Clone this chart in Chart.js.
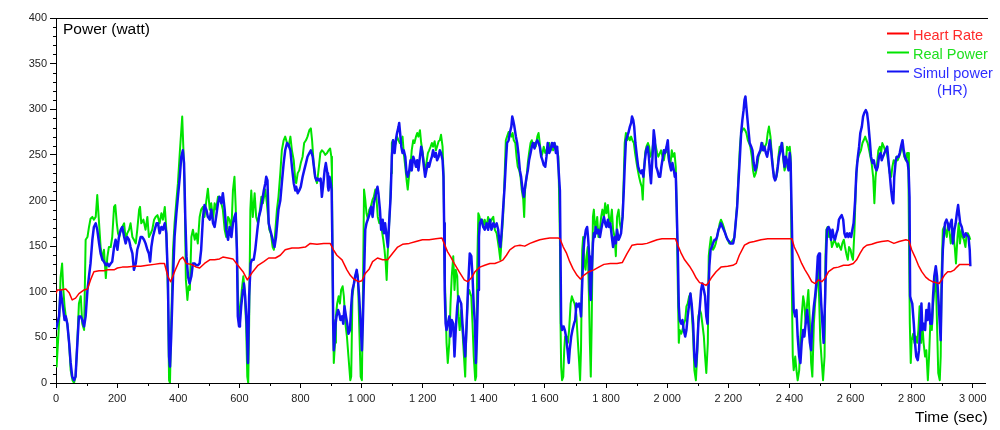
<!DOCTYPE html>
<html>
<head>
<meta charset="utf-8">
<script src="https://cdn.jsdelivr.net/npm/chart.js@4"></script>
<style>
  body { margin: 0; background: #fff; }
</style>
</head>
<body>
<canvas id="myChart" width="1000" height="430"></canvas>
<script>
// [time (sec), value]
const heartRate = [
  [0,98],[4,102],[15,102],[32,103],[43,99],[53,91],[64,93],[75,98],[92,102],[103,103],[113,113],[124,122],[141,123],[157,123],[168,124],[190,124],[201,126],[217,127],[233,127],[255,128],[277,128],[299,129],[321,130],[340,131],[355,131],[366,117],[375,111],[388,122],[405,135],[415,138],[426,131],[443,130],[459,127],[470,126],[486,131],[503,135],[519,135],[535,136],[546,138],[563,137],[579,136],[595,129],[612,122],[626,113],[636,118],[644,122],[661,129],[680,133],[696,137],[718,137],[734,140],[750,146],[772,148],[794,148],[816,149],[832,153],[854,152],[876,153],[897,153],[908,146],[919,140],[936,135],[952,124],[963,118],[974,114],[990,111],[1001,112],[1012,120],[1025,125],[1036,133],[1052,137],[1069,135],[1085,135],[1101,142],[1118,149],[1134,152],[1156,153],[1178,155],[1199,157],[1221,157],[1243,158],[1263,159],[1270,153],[1281,144],[1292,138],[1303,131],[1319,122],[1336,113],[1347,111],[1361,116],[1371,122],[1387,127],[1403,129],[1420,131],[1436,131],[1452,133],[1463,135],[1474,140],[1485,146],[1502,150],[1518,151],[1534,150],[1551,153],[1567,155],[1583,157],[1600,158],[1616,159],[1643,159],[1649,158],[1660,149],[1671,142],[1681,133],[1692,125],[1705,118],[1716,114],[1727,118],[1744,122],[1760,124],[1776,127],[1793,130],[1814,131],[1836,131],[1853,132],[1869,142],[1885,151],[1902,152],[1918,152],[1934,153],[1951,155],[1967,157],[1983,158],[2000,158],[2016,158],[2027,158],[2035,151],[2046,142],[2057,135],[2073,128],[2084,122],[2095,115],[2106,110],[2116,109],[2127,107],[2133,109],[2144,115],[2160,122],[2176,127],[2198,128],[2215,129],[2226,131],[2236,140],[2253,151],[2269,154],[2285,155],[2307,157],[2329,158],[2351,158],[2373,158],[2408,158],[2416,149],[2429,140],[2440,131],[2451,124],[2462,118],[2473,111],[2484,109],[2495,113],[2506,111],[2517,115],[2528,122],[2544,126],[2560,127],[2577,129],[2593,129],[2609,131],[2620,135],[2631,142],[2642,148],[2653,151],[2669,152],[2686,154],[2702,155],[2722,156],[2742,153],[2759,155],[2781,157],[2791,156],[2800,146],[2811,138],[2822,129],[2833,122],[2846,116],[2857,113],[2868,111],[2879,110],[2890,109],[2898,113],[2907,118],[2918,122],[2929,122],[2940,124],[2948,127],[2957,130],[2971,130],[2990,130]
]

const realPower = [
  [0,50],[2,18],[10,65],[15,116],[20,131],[24,102],[28,84],[32,73],[37,65],[43,43],[48,14],[54,3],[59,0],[64,7],[70,47],[75,87],[81,95],[86,65],[92,58],[97,157],[103,160],[108,171],[113,180],[119,182],[124,179],[130,182],[135,206],[141,175],[146,149],[152,135],[157,146],[163,115],[168,138],[173,149],[179,149],[184,160],[190,193],[194,195],[199,175],[203,164],[207,160],[212,168],[217,171],[223,175],[228,157],[233,164],[239,168],[244,175],[250,160],[255,157],[261,153],[266,168],[272,190],[275,193],[279,175],[286,179],[293,168],[299,182],[304,160],[310,164],[315,168],[321,179],[326,182],[332,184],
  [339,175],[345,186],[350,179],[356,193],[361,168],[366,102],[370,3],[373,0],[377,65],[383,146],[388,175],[394,200],[399,219],[405,252],[410,277],[413,292],[417,255],[421,211],[425,113],[430,91],[434,106],[438,102],[443,160],[448,168],[454,157],[459,164],[464,153],[470,182],[475,190],[481,193],[486,182],[492,200],[497,213],[503,190],[508,197],[514,179],[519,197],[524,190],[530,204],[535,204],[541,197],[546,190],[552,168],[557,160],[563,182],[568,179],[574,168],[579,211],[584,226],[588,193],[592,146],[595,102],[600,65],[604,84],[608,102],[613,117],[617,102],[622,65],[626,7],[629,0],[632,65],[636,190],[639,211],[644,182],[650,208],[655,182],[661,175],[666,186],[672,204],[677,197],
  [685,212],[690,197],[694,182],[698,168],[703,164],[709,149],[713,146],[718,168],[723,190],[728,204],[734,230],[739,255],[745,266],[750,270],[756,263],[761,259],[767,270],[772,255],[778,244],[783,222],[786,219],[791,230],[796,233],[801,241],[807,248],[812,263],[818,266],[823,270],[829,277],[834,279],[838,266],[843,241],[848,226],[854,219],[859,233],[865,252],[870,255],[876,253],[881,250],[887,252],[892,255],[897,257],[901,248],[903,230],[905,124],[907,69],[909,22],[913,44],[916,73],[920,87],[925,95],[929,87],[933,102],[938,106],[942,95],[947,65],[952,51],[957,29],[963,3],[966,7],[970,95],[975,109],[979,117],[984,122],[988,117],[992,65],[997,7],[1001,3],[1004,84],[1008,212],[1012,201],[1016,186],[1021,179],
  [1025,190],[1030,193],[1036,201],[1040,204],[1045,212],[1049,201],[1053,182],[1058,175],[1062,179],[1066,168],[1071,157],[1075,146],[1079,131],[1082,113],[1085,139],[1088,160],[1093,193],[1097,230],[1099,263],[1103,266],[1108,259],[1112,263],[1116,270],[1121,266],[1125,263],[1130,266],[1134,270],[1138,252],[1143,237],[1147,223],[1151,212],[1156,230],[1160,237],[1164,255],[1169,266],[1173,263],[1178,270],[1182,274],[1186,270],[1191,277],[1195,263],[1199,255],[1204,241],[1208,233],[1212,241],[1217,252],[1221,255],[1226,259],[1230,263],[1234,259],[1239,265],[1243,255],[1247,259],[1252,265],[1256,266],[1260,272],[1265,259],[1268,230],[1270,175],[1272,120],[1275,84],[1278,44],[1282,22],[1287,44],[1291,87],[1295,117],[1300,139],[1304,102],[1308,124],[1313,117],[1317,73],[1321,58],[1326,80],[1330,58],[1335,29],[1339,7],[1343,58],[1348,95],[1352,102],
  [1359,95],[1363,65],[1367,29],[1372,3],[1375,7],[1378,120],[1382,186],[1386,182],[1390,175],[1395,179],[1399,171],[1403,179],[1409,171],[1414,182],[1420,175],[1425,179],[1431,182],[1436,168],[1442,164],[1447,153],[1450,146],[1454,135],[1458,157],[1463,182],[1468,226],[1472,266],[1476,270],[1481,275],[1485,274],[1490,270],[1494,274],[1498,266],[1503,263],[1507,248],[1511,237],[1516,233],[1520,226],[1524,212],[1529,201],[1532,182],[1535,212],[1540,226],[1544,241],[1548,252],[1553,263],[1557,266],[1561,259],[1566,263],[1570,259],[1575,270],[1579,274],[1583,263],[1588,248],[1592,252],[1596,259],[1601,252],[1605,255],[1609,259],[1614,263],[1618,255],[1623,259],[1627,255],[1631,263],[1636,259],[1640,255],[1644,248],[1649,157],[1651,65],[1653,18],[1656,3],[1660,7],[1663,36],[1666,51],[1671,51],[1675,44],[1679,58],[1684,87],[1688,95],[1692,91],[1697,87],[1701,80],
  [1703,73],[1708,44],[1712,22],[1715,3],[1718,36],[1722,146],[1725,160],[1729,131],[1733,124],[1736,139],[1740,149],[1744,95],[1747,44],[1750,7],[1753,65],[1757,182],[1760,190],[1763,175],[1766,168],[1771,182],[1775,160],[1780,168],[1784,182],[1788,190],[1793,182],[1797,197],[1801,186],[1806,195],[1810,179],[1814,175],[1819,190],[1823,168],[1828,160],[1832,139],[1836,182],[1841,190],[1845,175],[1849,168],[1854,182],[1858,226],[1861,263],[1865,274],[1869,266],[1873,270],[1878,266],[1882,270],[1886,266],[1891,263],[1895,252],[1900,241],[1904,233],[1908,226],[1913,219],[1917,215],[1920,201],[1923,226],[1928,252],[1932,259],[1937,263],[1941,259],[1945,248],[1950,252],[1954,263],[1958,266],[1963,259],[1967,252],[1971,248],[1976,252],[1980,255],[1985,248],[1989,244],[1993,252],[1998,255],[2002,252],[2006,244],[2011,241],[2015,255],[2019,248],[2024,252],[2028,237],[2031,193],[2035,102],[2038,44],
  [2041,58],[2046,54],[2050,58],[2054,65],[2059,69],[2063,84],[2067,87],[2072,95],[2076,98],[2080,80],[2085,51],[2089,14],[2094,3],[2098,29],[2102,73],[2107,80],[2111,76],[2115,65],[2120,51],[2124,29],[2128,11],[2133,44],[2136,139],[2139,149],[2143,160],[2146,153],[2150,146],[2155,149],[2159,153],[2163,160],[2168,168],[2172,175],[2176,179],[2181,175],[2185,171],[2190,164],[2194,160],[2198,157],[2203,153],[2207,153],[2211,155],[2216,157],[2220,160],[2224,175],[2229,197],[2233,226],[2238,259],[2242,274],[2246,277],[2251,279],[2255,277],[2259,274],[2264,266],[2268,263],[2272,259],[2277,248],[2281,233],[2285,226],[2290,230],[2294,237],[2299,248],[2303,252],[2307,255],[2312,263],[2316,255],[2320,259],[2325,263],[2329,274],[2333,281],[2338,270],[2342,252],[2347,233],[2351,226],[2355,223],[2360,230],[2364,248],[2368,259],[2373,259],[2377,263],
  [2379,248],[2384,233],[2388,237],[2392,259],[2397,255],[2401,259],[2404,248],[2408,102],[2411,29],[2414,14],[2419,29],[2423,14],[2427,3],[2432,14],[2436,47],[2440,73],[2445,95],[2449,87],[2453,65],[2458,87],[2462,102],[2467,65],[2471,22],[2475,7],[2480,65],[2484,87],[2488,102],[2493,128],[2497,95],[2501,47],[2506,22],[2510,3],[2515,29],[2518,139],[2521,168],[2525,171],[2530,160],[2534,164],[2539,149],[2543,153],[2547,157],[2552,153],[2556,149],[2560,153],[2565,149],[2569,146],[2573,153],[2578,157],[2582,149],[2586,142],[2591,135],[2595,149],[2600,146],[2604,139],[2608,135],[2613,168],[2617,212],[2621,241],[2626,248],[2630,252],[2634,255],[2639,263],[2643,266],[2648,270],[2652,266],[2656,263],[2661,255],[2665,248],[2669,241],[2674,226],[2678,197],[2682,226],[2687,241],[2691,255],[2696,259],[2700,252],[2704,263],[2709,259],[2713,255],[2717,257],
  [2724,241],[2728,230],[2733,226],[2737,237],[2741,244],[2746,241],[2750,248],[2754,244],[2759,248],[2763,252],[2767,259],[2772,255],[2776,248],[2781,244],[2785,252],[2789,252],[2791,168],[2794,65],[2797,22],[2800,47],[2805,54],[2809,44],[2813,51],[2818,44],[2822,58],[2826,84],[2831,44],[2835,65],[2839,44],[2844,29],[2848,36],[2853,3],[2857,29],[2861,65],[2866,58],[2870,84],[2874,102],[2879,117],[2883,65],[2887,11],[2892,3],[2895,29],[2898,120],[2902,168],[2906,171],[2910,168],[2915,160],[2919,175],[2923,168],[2928,153],[2932,164],[2937,160],[2941,149],[2945,131],[2950,160],[2954,175],[2958,153],[2963,168],[2967,160],[2971,157],[2976,149],[2980,164],[2984,164],[2989,160],[2992,157]
]

const simulPower = [
  [0,58],[4,65],[10,73],[15,102],[21,87],[24,80],[28,69],[32,73],[37,65],[43,44],[48,22],[53,7],[59,3],[64,7],[70,44],[75,73],[81,73],[86,69],[92,62],[97,73],[103,102],[108,117],[113,131],[119,157],[124,171],[130,175],[135,168],[141,153],[146,142],[152,135],[157,133],[163,129],[168,131],[173,128],[179,131],[184,133],[190,149],[195,157],[201,146],[206,160],[212,168],[217,171],[223,160],[228,153],[233,160],[239,157],[244,149],[250,142],[255,124],[261,131],[266,146],[272,153],[277,160],[282,160],[288,157],[293,153],[299,146],[304,142],[308,133],[312,149],[317,160],[323,168],[329,175],[334,175],
  [339,164],[345,171],[350,168],[356,175],[361,164],[366,117],[370,29],[373,18],[377,51],[383,117],[388,160],[394,186],[399,204],[405,226],[410,248],[415,255],[419,241],[423,182],[427,139],[432,117],[437,109],[443,117],[448,131],[454,131],[459,129],[464,129],[470,131],[475,146],[481,182],[486,195],[492,190],[497,182],[503,179],[508,190],[514,175],[519,171],[524,182],[530,197],[535,204],[541,197],[546,208],[552,190],[557,168],[563,157],[568,171],[574,160],[579,175],[584,182],[588,186],[592,146],[595,73],[599,62],[602,65],[606,84],[612,102],[615,109],[619,95],[624,65],[628,22],[632,95],[637,131],[641,135],[647,135],[652,146],[659,168],[664,182],[670,190],[675,200],[680,211],
  [685,219],[688,226],[692,222],[696,175],[701,168],[707,160],[712,153],[715,149],[720,160],[724,175],[728,190],[734,200],[739,219],[745,241],[750,255],[756,263],[761,261],[767,255],[772,237],[778,219],[783,211],[786,215],[791,208],[796,211],[801,215],[807,226],[812,233],[818,241],[823,248],[829,252],[834,255],[840,248],[844,237],[848,226],[852,222],[856,224],[861,222],[866,224],[870,204],[875,219],[879,233],[883,241],[888,230],[890,215],[892,211],[895,226],[899,219],[902,211],[905,139],[907,65],[909,36],[912,47],[915,65],[918,73],[923,80],[927,76],[931,69],[936,73],[940,65],[944,84],[949,73],[953,65],[957,54],[962,58],[966,84],[970,102],[975,109],[979,117],[984,124],[988,113],[992,95],[997,65],[1001,36],[1004,65],[1008,117],[1012,168],[1016,175],
  [1023,182],[1027,186],[1031,193],[1036,182],[1040,197],[1045,204],[1049,211],[1052,215],[1055,208],[1060,190],[1064,168],[1069,179],[1073,164],[1077,175],[1082,160],[1086,149],[1090,175],[1095,204],[1099,248],[1103,266],[1108,252],[1112,266],[1116,274],[1121,281],[1123,285],[1126,274],[1130,259],[1134,252],[1138,255],[1143,248],[1147,230],[1151,226],[1156,233],[1160,244],[1164,233],[1169,248],[1173,244],[1178,237],[1182,244],[1186,233],[1191,248],[1195,259],[1199,252],[1204,237],[1208,226],[1212,233],[1217,241],[1221,237],[1226,244],[1230,248],[1234,255],[1239,248],[1243,252],[1247,244],[1252,248],[1256,255],[1260,252],[1265,244],[1268,226],[1270,175],[1272,102],[1275,65],[1278,58],[1282,65],[1287,73],[1291,51],[1295,69],[1300,65],[1304,29],[1308,58],[1313,84],[1317,95],[1321,91],[1326,87],[1330,65],[1335,44],[1339,29],[1343,58],[1348,102],
  [1354,142],[1359,139],[1363,117],[1367,84],[1371,65],[1374,22],[1377,47],[1381,102],[1384,160],[1387,175],[1392,179],[1398,171],[1403,168],[1409,175],[1414,168],[1420,179],[1425,168],[1431,175],[1436,171],[1442,175],[1447,168],[1450,157],[1454,149],[1458,164],[1463,190],[1468,215],[1472,241],[1476,263],[1481,266],[1485,274],[1490,281],[1493,292],[1496,288],[1500,281],[1505,270],[1509,263],[1513,252],[1518,233],[1522,226],[1527,211],[1531,204],[1535,215],[1540,226],[1544,233],[1548,244],[1553,252],[1557,259],[1561,263],[1566,257],[1570,263],[1575,266],[1579,263],[1583,259],[1588,248],[1592,244],[1596,239],[1601,237],[1605,248],[1609,263],[1614,252],[1618,255],[1623,263],[1627,259],[1631,263],[1636,252],[1640,259],[1644,237],[1649,211],[1651,139],[1653,65],[1656,58],[1661,62],[1665,58],[1669,51],[1674,36],[1678,22],[1681,36],[1686,51],[1690,58],[1695,65],[1699,69],
  [1703,87],[1708,84],[1712,87],[1716,80],[1718,73],[1722,109],[1725,139],[1729,157],[1734,168],[1738,171],[1741,160],[1745,139],[1747,102],[1750,91],[1753,120],[1757,153],[1760,164],[1763,160],[1766,171],[1771,164],[1775,168],[1780,160],[1784,168],[1788,175],[1793,182],[1797,175],[1801,171],[1806,179],[1810,171],[1814,175],[1819,160],[1823,149],[1828,160],[1832,153],[1836,168],[1841,157],[1845,160],[1849,164],[1854,182],[1858,211],[1861,237],[1865,266],[1869,270],[1873,274],[1878,281],[1882,285],[1885,292],[1889,288],[1892,281],[1896,263],[1901,248],[1905,237],[1909,233],[1914,230],[1918,233],[1922,226],[1927,244],[1931,255],[1936,259],[1940,248],[1944,230],[1947,219],[1952,248],[1956,277],[1960,266],[1964,237],[1968,233],[1973,226],[1977,226],[1981,237],[1986,248],[1989,255],[1993,252],[1998,259],[2002,266],[2006,244],[2010,237],[2013,233],[2017,241],[2022,233],[2025,226],[2028,230],[2031,193],[2035,139],[2038,84],
  [2041,69],[2046,65],[2050,69],[2054,58],[2059,51],[2063,58],[2067,73],[2072,87],[2076,98],[2080,87],[2085,65],[2089,29],[2094,18],[2098,36],[2102,65],[2107,84],[2111,102],[2115,109],[2120,102],[2124,95],[2128,73],[2132,65],[2135,102],[2138,128],[2142,146],[2146,149],[2150,153],[2155,157],[2159,157],[2163,160],[2168,168],[2172,171],[2176,175],[2181,171],[2185,168],[2190,164],[2194,160],[2198,157],[2203,155],[2207,153],[2211,153],[2216,153],[2220,160],[2224,175],[2229,193],[2233,219],[2238,248],[2242,274],[2246,288],[2250,299],[2253,310],[2256,314],[2259,303],[2263,288],[2266,277],[2270,263],[2275,259],[2279,255],[2283,241],[2288,233],[2292,237],[2296,248],[2301,252],[2305,255],[2309,263],[2314,255],[2318,259],[2323,252],[2327,248],[2331,255],[2336,266],[2340,255],[2344,241],[2349,226],[2353,222],[2357,226],[2362,237],[2366,248],[2371,255],[2375,263],
  [2379,252],[2384,237],[2388,248],[2392,244],[2397,233],[2401,252],[2404,241],[2408,175],[2411,117],[2414,80],[2419,73],[2423,80],[2427,51],[2432,29],[2436,22],[2440,44],[2445,58],[2449,51],[2453,65],[2458,80],[2462,65],[2467,44],[2471,36],[2475,65],[2480,84],[2484,95],[2488,109],[2493,139],[2497,142],[2500,117],[2504,87],[2508,65],[2512,44],[2517,95],[2520,139],[2523,168],[2528,171],[2532,168],[2536,157],[2541,168],[2545,160],[2549,157],[2554,164],[2558,168],[2562,179],[2567,182],[2571,184],[2576,179],[2580,164],[2584,160],[2589,164],[2593,160],[2597,164],[2602,160],[2606,168],[2610,175],[2615,200],[2619,230],[2624,248],[2628,259],[2632,274],[2637,281],[2641,292],[2645,296],[2650,299],[2654,296],[2658,285],[2663,266],[2667,248],[2672,241],[2676,244],[2680,237],[2685,233],[2689,237],[2693,248],[2698,252],[2702,244],[2706,248],[2711,252],[2715,255],[2720,259],
  [2724,244],[2728,230],[2733,211],[2737,200],[2740,197],[2743,226],[2748,244],[2752,248],[2757,248],[2761,252],[2765,259],[2770,266],[2774,255],[2778,248],[2783,244],[2787,241],[2790,233],[2793,204],[2795,95],[2798,91],[2802,87],[2807,65],[2811,44],[2815,29],[2820,25],[2824,36],[2829,65],[2832,87],[2835,58],[2839,65],[2844,58],[2848,80],[2852,69],[2857,87],[2861,65],[2866,65],[2870,95],[2874,117],[2879,128],[2883,117],[2887,95],[2892,65],[2895,47],[2898,102],[2902,146],[2905,160],[2909,175],[2914,179],[2918,175],[2922,168],[2927,175],[2931,179],[2935,153],[2940,168],[2944,175],[2948,186],[2952,195],[2955,186],[2959,175],[2964,171],[2968,164],[2972,160],[2977,164],[2981,162],[2986,160],[2990,146],[2992,128]
]

const xTickValues = [0, 200, 400, 600, 800, 1000, 1200, 1400, 1600, 1800, 2000, 2200, 2400, 2600, 2800, 3000]
const yTickValues = [0, 50, 100, 150, 200, 250, 300, 350, 400]

const legendItems = [
  { label: 'Heart Rate', line: '#ff0000', text: '#ff2a2a' },
  { label: 'Real Power', line: '#00e400', text: '#1ee01e' },
  { label: 'Simul power', line: '#1212f2', text: '#2e2eff' }
]

const FONT = '"Liberation Sans", Arial, sans-serif'

function toXY(rows) {
  return rows.map(r => ({ x: r[0], y: r[1] }))
}

function thousands(v) {
  if (v < 1000) return String(v)
  return Math.floor(v / 1000) + ' ' + String(v % 1000).padStart(3, '0')
}

// axis frame, minor ticks, titles and the legend
const decorations = {
  id: 'decorations',
  afterDraw(chart) {
    const { ctx, chartArea, scales } = chart
    const x = scales.x
    const y = scales.y
    ctx.save()
    ctx.strokeStyle = '#000'
    ctx.lineWidth = 1

    ctx.beginPath()
    ctx.moveTo(chartArea.left, chartArea.top + 0.5)
    ctx.lineTo(988, chartArea.top + 0.5)
    for (let v = 10; v < 400; v += 10) {
      if (v % 50 === 0) continue
      const py = Math.round(y.getPixelForValue(v)) + 0.5
      ctx.moveTo(chartArea.left - 3, py)
      ctx.lineTo(chartArea.left, py)
    }
    for (let t = 100; t < 3000; t += 200) {
      const px = Math.round(x.getPixelForValue(t)) + 0.5
      ctx.moveTo(px, chartArea.bottom)
      ctx.lineTo(px, chartArea.bottom + 3)
    }
    ctx.stroke()

    ctx.fillStyle = '#000'
    ctx.font = '15.5px ' + FONT
    ctx.textBaseline = 'alphabetic'
    ctx.fillText('Power (watt)', 63, 34)
    ctx.fillText('Time (sec)', 915, 422)

    ctx.font = '14.5px ' + FONT
    const rows = [33, 52, 71]
    legendItems.forEach((item, i) => {
      ctx.strokeStyle = item.line
      ctx.lineWidth = 2
      ctx.beginPath()
      ctx.moveTo(887, rows[i] + 0.5)
      ctx.lineTo(909, rows[i] + 0.5)
      ctx.stroke()
      ctx.fillStyle = item.text
      ctx.fillText(item.label, 913, rows[i] + 7)
    })
    ctx.fillText('(HR)', 937, 95)
    ctx.restore()
  }
}

const myChart = new Chart(document.getElementById('myChart'), {
  type: 'line',
  data: {
    datasets: [
      { label: 'Heart Rate', data: toXY(heartRate), borderColor: '#ff0000', borderWidth: 1.5 },
      { label: 'Simul power (HR)', data: toXY(simulPower), borderColor: '#1212f2', borderWidth: 2.5 },
      { label: 'Real Power', data: toXY(realPower), borderColor: '#00e400', borderWidth: 2 }
    ]
  },
  options: {
    responsive: false,
    animation: false,
    devicePixelRatio: 1,
    layout: { padding: { top: 18, right: 15, bottom: 0, left: 0 } },
    elements: {
      point: { radius: 0 },
      line: { tension: 0, fill: false, borderJoinStyle: 'round' }
    },
    plugins: { legend: { display: false }, tooltip: { enabled: false } },
    scales: {
      x: {
        type: 'linear',
        min: 0,
        max: 3040,
        afterFit: s => { s.height = 47 },
        afterBuildTicks: s => { s.ticks = xTickValues.map(v => ({ value: v })) },
        border: { color: '#000', width: 1 },
        grid: { drawOnChartArea: false, drawTicks: true, tickLength: 5, color: '#000' },
        ticks: {
          autoSkip: false,
          maxRotation: 0,
          padding: 4,
          color: '#222',
          font: { family: FONT, size: 11 },
          callback: v => thousands(v)
        }
      },
      y: {
        min: 0,
        max: 400,
        afterFit: s => { s.width = 56 },
        afterBuildTicks: s => { s.ticks = yTickValues.map(v => ({ value: v })) },
        border: { color: '#000', width: 1 },
        grid: { drawOnChartArea: false, drawTicks: true, tickLength: 6, color: '#000' },
        ticks: {
          padding: 3,
          color: '#222',
          font: { family: FONT, size: 11 }
        }
      }
    }
  },
  plugins: [decorations]
})
</script>
</body>
</html>
